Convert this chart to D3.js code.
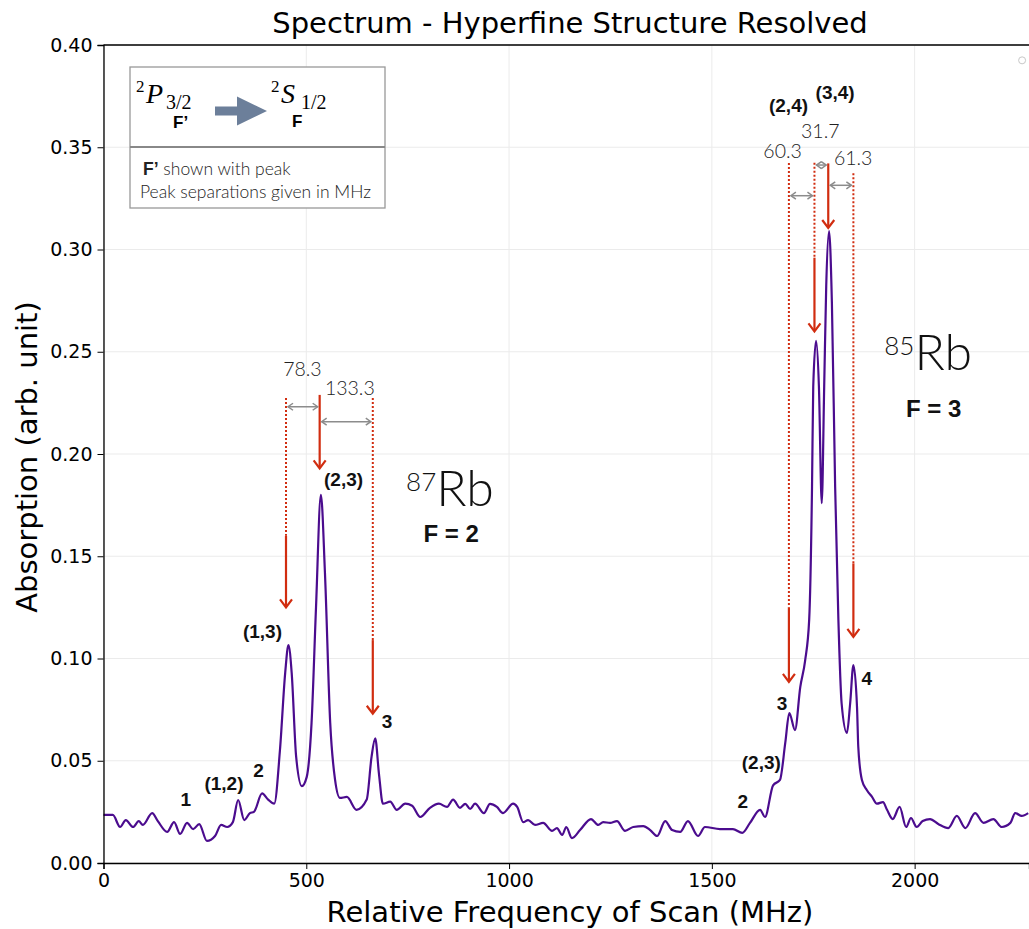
<!DOCTYPE html>
<html>
<head>
<meta charset="utf-8">
<script src="https://cdn.jsdelivr.net/npm/d3@7"></script>
<style>
  html, body { margin: 0; padding: 0; background: #fff; }
  svg { display: block; }
  .tick text { font-family: "DejaVu Sans", sans-serif; font-size: 19px; fill: #000; }
  .grid line { stroke: #ebebeb; stroke-width: 1; }
</style>
</head>
<body>
<div id="chart"></div>
<script>
// Rb saturated absorption scan
// frequency (MHz) and absorption (arb. unit)
const scanFreq = [0, 23, 41, 55, 73, 87, 97, 120, 134, 157, 174, 189, 206, 221, 236, 255, 275, 290, 305, 319,
  332, 347, 361, 371, 391, 406, 421, 435, 448, 456, 464, 475, 489, 501, 513, 524, 536, 546, 559, 571,
  583, 600, 624, 649, 661, 670, 679, 689, 707, 723, 744, 761, 781, 805, 827, 847, 862, 879, 892, 904,
  916, 938, 953, 970, 985, 1010, 1020, 1035, 1047, 1064, 1084, 1106, 1118, 1131, 1141, 1155, 1175, 1202, 1220, 1232,
  1249, 1266, 1286, 1306, 1331, 1348, 1365, 1385, 1402, 1422, 1441, 1466, 1483, 1520, 1552, 1575, 1594, 1619, 1631, 1651,
  1668, 1681, 1691, 1705, 1718, 1730, 1740, 1747, 1750, 1757, 1764, 1771, 1777, 1782, 1789, 1796, 1804, 1812, 1820, 1833,
  1841, 1849, 1858, 1861, 1870, 1882, 1895, 1907, 1922, 1932, 1946, 1963, 1979, 1991, 2005, 2020, 2038, 2059, 2083, 2104,
  2125, 2149, 2170, 2194, 2215, 2236, 2248, 2264, 2280];
const scanAbs = [0.0235, 0.0235, 0.0176, 0.0210, 0.0176, 0.0205, 0.0186, 0.0244, 0.0205, 0.0152, 0.0200, 0.0142, 0.0196, 0.0166, 0.0190, 0.0108, 0.0132, 0.0186, 0.0176, 0.0200,
  0.0308, 0.0210, 0.0244, 0.0250, 0.0340, 0.0310, 0.0290, 0.0550, 0.0930, 0.1066, 0.0930, 0.0520, 0.0376, 0.0420, 0.0685, 0.1250, 0.1800, 0.1420, 0.0685, 0.0406,
  0.0318, 0.0323, 0.0260, 0.0310, 0.0520, 0.0610, 0.0440, 0.0290, 0.0300, 0.0260, 0.0290, 0.0280, 0.0225, 0.0270, 0.0290, 0.0274, 0.0310, 0.0270, 0.0289, 0.0264,
  0.0290, 0.0244, 0.0289, 0.0274, 0.0244, 0.0290, 0.0274, 0.0200, 0.0210, 0.0186, 0.0196, 0.0157, 0.0171, 0.0137, 0.0176, 0.0122, 0.0161, 0.0215, 0.0186, 0.0200,
  0.0196, 0.0205, 0.0157, 0.0176, 0.0180, 0.0161, 0.0132, 0.0205, 0.0161, 0.0152, 0.0205, 0.0132, 0.0176, 0.0166, 0.0166, 0.0147, 0.0196, 0.0260, 0.0225, 0.0380,
  0.0406, 0.0587, 0.0733, 0.0650, 0.0860, 0.0990, 0.1190, 0.1840, 0.2330, 0.2553, 0.2330, 0.1760, 0.2330, 0.2820, 0.3090, 0.2740, 0.1840, 0.1190, 0.0780, 0.0636,
  0.0780, 0.0968, 0.0760, 0.0570, 0.0406, 0.0357, 0.0323, 0.0290, 0.0298, 0.0260, 0.0215, 0.0274, 0.0176, 0.0220, 0.0176, 0.0205, 0.0215, 0.0190, 0.0171, 0.0230,
  0.0171, 0.0244, 0.0196, 0.0215, 0.0176, 0.0196, 0.0244, 0.0230, 0.0244];

const xTicks = [0, 500, 1000, 1500, 2000];
const yTicks = [0, 0.05, 0.10, 0.15, 0.20, 0.25, 0.30, 0.35, 0.40];

// red marker lines: x (MHz), top, end of dotted part, arrow tip (absorption)
const markerX     = [450, 533, 664, 1690, 1753, 1787, 1849];
const markerTop   = [0.2274, 0.2289, 0.2274, 0.3423, 0.3424, 0.3421, 0.3373];
const markerSplit = [0.1600, 0.2289, 0.1090, 0.1250, 0.2960, 0.3421, 0.1465];
const markerTip   = [0.1250, 0.1930, 0.0730, 0.0886, 0.2600, 0.3105, 0.1106];

// peak separations (MHz) between marker lines
const sepLabels = ["78.3", "133.3", "60.3", "31.7", "61.3"];
const sepFrom   = [450, 533, 1690, 1753, 1787];
const sepTo     = [533, 664, 1753, 1787, 1849];
const sepY      = [0.2231, 0.2158, 0.3263, 0.3413, 0.3314];
const sepTextX  = [443, 546, 1627, 1720, 1801];
const sepTextY  = [0.2381, 0.2289, 0.3446, 0.3544, 0.3413];

// F' labels next to the peaks
const peakLabels = ["1", "(1,2)", "2", "(1,3)", "(2,3)", "3", "2", "(2,3)", "3", "4", "(2,4)", "(3,4)"];
const peakLabelX = [203, 297, 382, 392, 592, 699, 1576, 1622, 1673, 1882, 1689, 1804];
const peakLabelY = [0.0279, 0.0357, 0.0422, 0.1099, 0.1843, 0.0661, 0.0270, 0.0458, 0.0748, 0.0870, 0.3674, 0.3735];

const isotopes = [{mass: "87", name: "Rb", f: "F = 2", x: 746, y: 0.1745, fx: 857, fy: 0.1571},
                  {mass: "85", name: "Rb", f: "F = 3", x: 1925, y: 0.2410, fx: 2047, fy: 0.2181}];

const W = 1029, H = 929;
const svg = d3.select('#chart').append('svg').attr('width', W).attr('height', H);

const x = d3.scaleLinear().domain([0, 2282]).range([103.5, 1029]);
const y = d3.scaleLinear().domain([0, 0.4]).range([863, 45]);

// grid
const grid = svg.append('g').attr('class', 'grid');
grid.selectAll('.gx').data(xTicks).join('line')
  .attr('x1', d => x(d)).attr('x2', d => x(d)).attr('y1', y(0)).attr('y2', y(0.4));
grid.selectAll('.gy').data(yTicks).join('line')
  .attr('x1', x(0)).attr('x2', W).attr('y1', d => y(d)).attr('y2', d => y(d));

// red marker lines (behind the curve)
const red = '#d12d10';
const marks = svg.append('g');
markerX.forEach((mx, i) => {
  if (markerSplit[i] < markerTop[i]) {
    marks.append('line')
      .attr('x1', x(mx)).attr('x2', x(mx)).attr('y1', y(markerTop[i])).attr('y2', y(markerSplit[i]))
      .attr('stroke', red).attr('stroke-width', 2).attr('stroke-dasharray', '2,2');
  }
  marks.append('line')
    .attr('x1', x(mx)).attr('x2', x(mx)).attr('y1', y(markerSplit[i])).attr('y2', y(markerTip[i]) - 1)
    .attr('stroke', red).attr('stroke-width', 2.2);
  marks.append('path')
    .attr('d', `M${x(mx) - 6},${y(markerTip[i]) - 8} L${x(mx)},${y(markerTip[i])} L${x(mx) + 6},${y(markerTip[i]) - 8}`)
    .attr('fill', 'none').attr('stroke', red).attr('stroke-width', 2.2);
});

// separation double arrows
const gray = '#8c8c8c';
sepLabels.forEach((lab, i) => {
  const x0 = x(sepFrom[i]) + 2, x1 = x(sepTo[i]) - 2, yy = y(sepY[i]);
  marks.append('line').attr('x1', x0).attr('x2', x1).attr('y1', yy).attr('y2', yy)
    .attr('stroke', gray).attr('stroke-width', 1.5);
  marks.append('path').attr('d', `M${x0 + 5},${yy - 3.5} L${x0},${yy} L${x0 + 5},${yy + 3.5}`)
    .attr('fill', 'none').attr('stroke', gray).attr('stroke-width', 1.5);
  marks.append('path').attr('d', `M${x1 - 5},${yy - 3.5} L${x1},${yy} L${x1 - 5},${yy + 3.5}`)
    .attr('fill', 'none').attr('stroke', gray).attr('stroke-width', 1.5);
  marks.append('text').attr('x', x(sepTextX[i])).attr('y', y(sepTextY[i]))
    .attr('font-family', 'Lato, "Liberation Sans", sans-serif').attr('font-weight', 300)
    .attr('font-size', 19.5).attr('fill', '#222').text(lab);
});

// spectrum curve
const pts = scanFreq.map((f, i) => [f, scanAbs[i]]);
svg.append('path').datum(pts)
  .attr('fill', 'none').attr('stroke', '#4b0c8e').attr('stroke-width', 2.2)
  .attr('stroke-linejoin', 'round')
  .attr('d', d3.line().x(d => x(d[0])).y(d => y(d[1])).curve(d3.curveMonotoneX));

// axes
const yAxis = svg.append('g').attr('transform', `translate(${x(0)},0)`)
  .call(d3.axisLeft(y).tickValues(yTicks).tickFormat(d3.format('.2f')).tickSize(6).tickPadding(5));
const xAxis = svg.append('g').attr('transform', `translate(0,${y(0)})`)
  .call(d3.axisBottom(x).tickValues(xTicks).tickFormat(d3.format('d')).tickSize(6).tickPadding(5));
[yAxis, xAxis].forEach(a => {
  a.select('.domain').attr('stroke', '#000').attr('stroke-width', 1.3);
  a.selectAll('.tick line').attr('stroke', '#000');
});
svg.append('line').attr('x1', x(0)).attr('x2', W).attr('y1', y(0.4)).attr('y2', y(0.4))
  .attr('stroke', '#000').attr('stroke-width', 1.3);
svg.append('circle').attr('cx', x(2265)).attr('cy', y(0.3925)).attr('r', 3.5)
  .attr('fill', 'none').attr('stroke', '#c8c8c8').attr('stroke-width', 1);

// peak labels
svg.append('g').selectAll('text').data(peakLabels).join('text')
  .attr('x', (d, i) => x(peakLabelX[i])).attr('y', (d, i) => y(peakLabelY[i]))
  .attr('text-anchor', 'middle')
  .attr('font-family', '"Liberation Sans", Arial, sans-serif').attr('font-weight', 'bold')
  .attr('font-size', 19).attr('fill', '#111').text(d => d);

// isotope labels
isotopes.forEach(iso => {
  const t = svg.append('text').attr('x', x(iso.x)).attr('y', y(iso.y))
    .attr('font-family', 'Lato, "Liberation Sans", sans-serif').attr('font-weight', 300).attr('fill', '#111');
  t.append('tspan').attr('font-size', 26).attr('dy', -15).text(iso.mass);
  t.append('tspan').attr('font-size', 50).attr('dy', 15).text(iso.name);
  svg.append('text').attr('x', x(iso.fx)).attr('y', y(iso.fy)).attr('text-anchor', 'middle')
    .attr('font-family', '"Liberation Sans", Arial, sans-serif').attr('font-weight', 'bold')
    .attr('font-size', 24).attr('fill', '#111').text(iso.f);
});

// legend box
const lg = svg.append('g').attr('transform', 'translate(130,67)');
lg.append('rect').attr('width', 255).attr('height', 141).attr('fill', '#fff')
  .attr('stroke', '#999').attr('stroke-width', 1.3);
lg.append('line').attr('x1', 0).attr('x2', 255).attr('y1', 80).attr('y2', 80)
  .attr('stroke', '#888').attr('stroke-width', 2.2);
const serif = '"Liberation Serif", "DejaVu Serif", serif';
function term(x0, letter, sub) {
  lg.append('text').attr('x', x0).attr('y', 25).attr('font-family', serif).attr('font-size', 17).text('2');
  lg.append('text').attr('x', x0 + 10).attr('y', 36).attr('font-family', serif).attr('font-style', 'italic')
    .attr('font-size', 28).text(letter);
  lg.append('text').attr('x', x0 + 30).attr('y', 42).attr('font-family', serif).attr('font-size', 20).text(sub);
}
term(6, 'P', '3/2');
term(141, 'S', '1/2');
lg.append('text').attr('x', 43).attr('y', 61).attr('font-family', '"Liberation Sans", Arial, sans-serif')
  .attr('font-weight', 'bold').attr('font-size', 17).text('F\u2019');
lg.append('text').attr('x', 162).attr('y', 60).attr('font-family', '"Liberation Sans", Arial, sans-serif')
  .attr('font-weight', 'bold').attr('font-size', 17).text('F');
lg.append('path').attr('d', 'M85,39.5 L107,39.5 L107,29.5 L137,44 L107,58.5 L107,48.5 L85,48.5 Z')
  .attr('fill', '#6c7f9a');
const note = lg.append('text').attr('x', 13).attr('y', 108)
  .attr('font-family', 'Lato, "Liberation Sans", sans-serif').attr('font-size', 17.5).attr('fill', '#222');
note.append('tspan').attr('font-weight', 'bold').attr('font-family', '"Liberation Sans", Arial, sans-serif').text('F\u2019');
note.append('tspan').attr('font-weight', 300).text(' shown with peak');
lg.append('text').attr('x', 10).attr('y', 131).attr('font-family', 'Lato, "Liberation Sans", sans-serif')
  .attr('font-weight', 300).attr('font-size', 17.5).attr('fill', '#222').text('Peak separations given in MHz');

// titles
svg.append('text').attr('x', 570).attr('y', 33).attr('text-anchor', 'middle')
  .attr('font-family', '"DejaVu Sans", sans-serif').attr('font-size', 29).text('Spectrum - Hyperfine Structure Resolved');
svg.append('text').attr('x', 570).attr('y', 922).attr('text-anchor', 'middle')
  .attr('font-family', '"DejaVu Sans", sans-serif').attr('font-size', 29).text('Relative Frequency of Scan (MHz)');
svg.append('text').attr('transform', 'translate(37,457) rotate(-90)').attr('text-anchor', 'middle')
  .attr('font-family', '"DejaVu Sans", sans-serif').attr('font-size', 29).text('Absorption (arb. unit)');
</script>
</body>
</html>
